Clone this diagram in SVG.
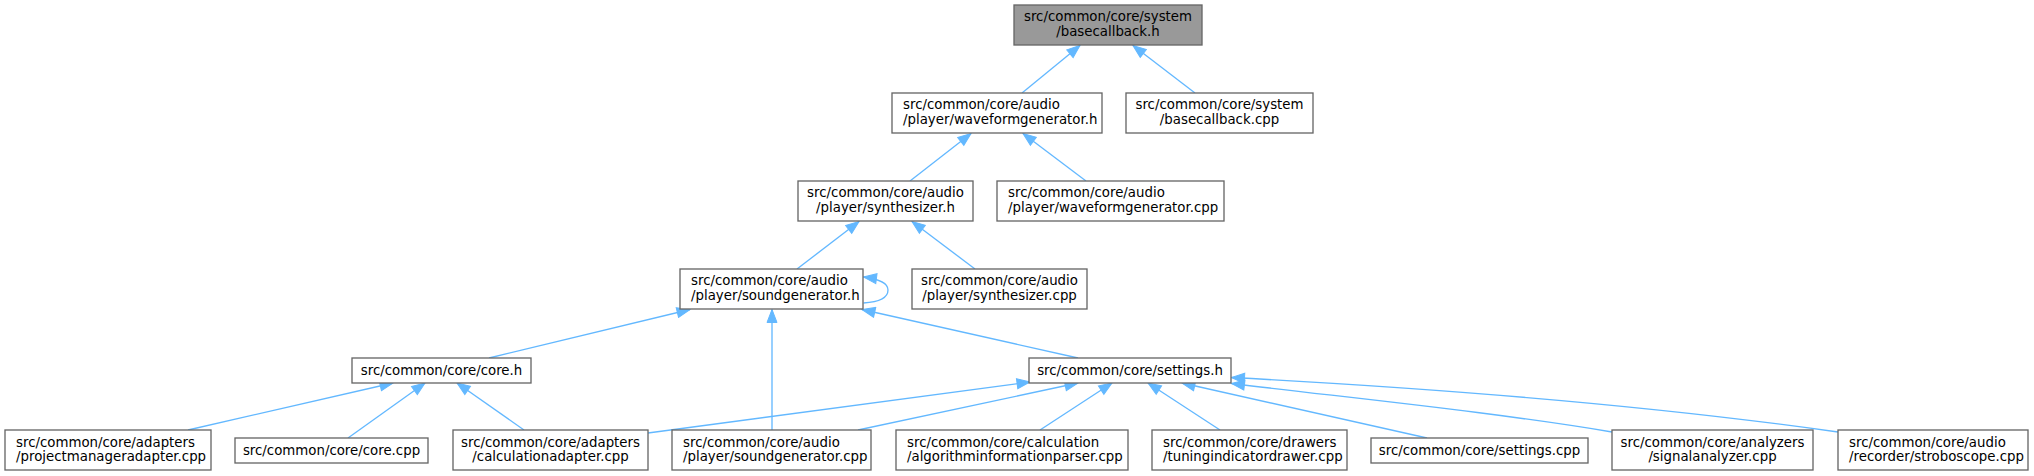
<svg xmlns="http://www.w3.org/2000/svg" width="2034" height="476" viewBox="0 0 2034 476">
<style>
.box{fill:#ffffff;stroke:#666666;stroke-width:1.33}
.root{fill:#999999;stroke:#666666;stroke-width:1.33}
text{font-family:"DejaVu Sans","Liberation Sans",sans-serif;font-size:13.33px;fill:#000000}
.c{text-anchor:middle}
.l{text-anchor:start}
.e{fill:none;stroke:#63b8ff;stroke-width:1.33;marker-start:url(#ah)}
</style>
<defs>
<marker id="ah" markerUnits="userSpaceOnUse" markerWidth="16" markerHeight="12" refX="13" refY="5" orient="auto-start-reverse" viewBox="-1 -1 16 12">
<path d="M0,0 L13,5 L0,10 z" fill="#63b8ff" stroke="#63b8ff" stroke-width="1"/>
</marker>
</defs>
<rect width="2034" height="476" fill="#ffffff"/>
<g id="edges">
<path class="e" d="M1080,45.5 L1022,93"/>
<path class="e" d="M1133,45.5 L1195,93"/>
<path class="e" d="M971,133.5 L910,181"/>
<path class="e" d="M1023,133.5 L1086,181"/>
<path class="e" d="M859,221.5 L797,269"/>
<path class="e" d="M912,221.5 L975,269"/>
<path class="e" d="M863.5,277 C879,279 888,283 888,290 C888,297 880,302 863.5,303"/>
<path class="e" d="M690,309.5 L489,358"/>
<path class="e" d="M772,309.5 L772,430"/>
<path class="e" d="M862,309.5 L1078,358"/>
<path class="e" d="M393,383 L188,430"/>
<path class="e" d="M425,383 L348,438"/>
<path class="e" d="M457,383 L524,430"/>
<path class="e" d="M1030,382 L648,433"/>
<path class="e" d="M1078,383 L858,430"/>
<path class="e" d="M1112,383 L1040,430"/>
<path class="e" d="M1148,383 L1220,430"/>
<path class="e" d="M1182,383 L1427,438"/>
<path class="e" d="M1231.5,383.5 C1360,399 1500,413 1612,432"/>
<path class="e" d="M1231.5,377.5 C1430,388 1640,404 1838,432"/>
</g>
<g id="node_root">
<rect class="root" x="1014" y="5" width="188" height="40"/>
<text class="c" x="1108" y="21">src/common/core/system</text>
<text class="c" x="1108" y="36">/basecallback.h</text>
</g>
<g id="node_waveformgenerator_h">
<rect class="box" x="892" y="93" width="210" height="40"/>
<text class="l" x="903" y="109">src/common/core/audio</text>
<text class="l" x="903" y="124">/player/waveformgenerator.h</text>
</g>
<g id="node_basecallback_cpp">
<rect class="box" x="1126" y="93" width="187" height="40"/>
<text class="c" x="1219.5" y="109">src/common/core/system</text>
<text class="c" x="1219.5" y="124">/basecallback.cpp</text>
</g>
<g id="node_synthesizer_h">
<rect class="box" x="798" y="181" width="175" height="40"/>
<text class="c" x="885.5" y="197">src/common/core/audio</text>
<text class="c" x="885.5" y="212">/player/synthesizer.h</text>
</g>
<g id="node_waveformgenerator_cpp">
<rect class="box" x="997" y="181" width="227" height="40"/>
<text class="l" x="1008" y="197">src/common/core/audio</text>
<text class="l" x="1008" y="212">/player/waveformgenerator.cpp</text>
</g>
<g id="node_soundgenerator_h">
<rect class="box" x="680" y="269" width="183" height="40"/>
<text class="l" x="691" y="285">src/common/core/audio</text>
<text class="l" x="691" y="300">/player/soundgenerator.h</text>
</g>
<g id="node_synthesizer_cpp">
<rect class="box" x="912" y="269" width="175" height="40"/>
<text class="c" x="999.5" y="285">src/common/core/audio</text>
<text class="c" x="999.5" y="300">/player/synthesizer.cpp</text>
</g>
<g id="node_core_h">
<rect class="box" x="352" y="358" width="179" height="25"/>
<text class="c" x="441.5" y="374.5">src/common/core/core.h</text>
</g>
<g id="node_settings_h">
<rect class="box" x="1029" y="358" width="202" height="25"/>
<text class="c" x="1130" y="374.5">src/common/core/settings.h</text>
</g>
<g id="node_projectmanageradapter_cpp">
<rect class="box" x="5" y="430" width="206" height="40"/>
<text class="l" x="16" y="446.5">src/common/core/adapters</text>
<text class="l" x="16" y="461">/projectmanageradapter.cpp</text>
</g>
<g id="node_core_cpp">
<rect class="box" x="235" y="438" width="193" height="25"/>
<text class="c" x="331.5" y="454.5">src/common/core/core.cpp</text>
</g>
<g id="node_calculationadapter_cpp">
<rect class="box" x="453" y="430" width="195" height="40"/>
<text class="c" x="550.5" y="446.5">src/common/core/adapters</text>
<text class="c" x="550.5" y="461">/calculationadapter.cpp</text>
</g>
<g id="node_soundgenerator_cpp">
<rect class="box" x="672" y="430" width="199" height="40"/>
<text class="l" x="683" y="446.5">src/common/core/audio</text>
<text class="l" x="683" y="461">/player/soundgenerator.cpp</text>
</g>
<g id="node_algorithminformationparser_cpp">
<rect class="box" x="896" y="430" width="232" height="40"/>
<text class="l" x="907" y="446.5">src/common/core/calculation</text>
<text class="l" x="907" y="461">/algorithminformationparser.cpp</text>
</g>
<g id="node_tuningindicatordrawer_cpp">
<rect class="box" x="1152" y="430" width="195" height="40"/>
<text class="l" x="1163" y="446.5">src/common/core/drawers</text>
<text class="l" x="1163" y="461">/tuningindicatordrawer.cpp</text>
</g>
<g id="node_settings_cpp">
<rect class="box" x="1371" y="438" width="217" height="25"/>
<text class="c" x="1479.5" y="454.5">src/common/core/settings.cpp</text>
</g>
<g id="node_signalanalyzer_cpp">
<rect class="box" x="1612" y="430" width="201" height="40"/>
<text class="c" x="1712.5" y="446.5">src/common/core/analyzers</text>
<text class="c" x="1712.5" y="461">/signalanalyzer.cpp</text>
</g>
<g id="node_stroboscope_cpp">
<rect class="box" x="1838" y="430" width="190" height="40"/>
<text class="l" x="1849" y="446.5">src/common/core/audio</text>
<text class="l" x="1849" y="461">/recorder/stroboscope.cpp</text>
</g>
</svg>
